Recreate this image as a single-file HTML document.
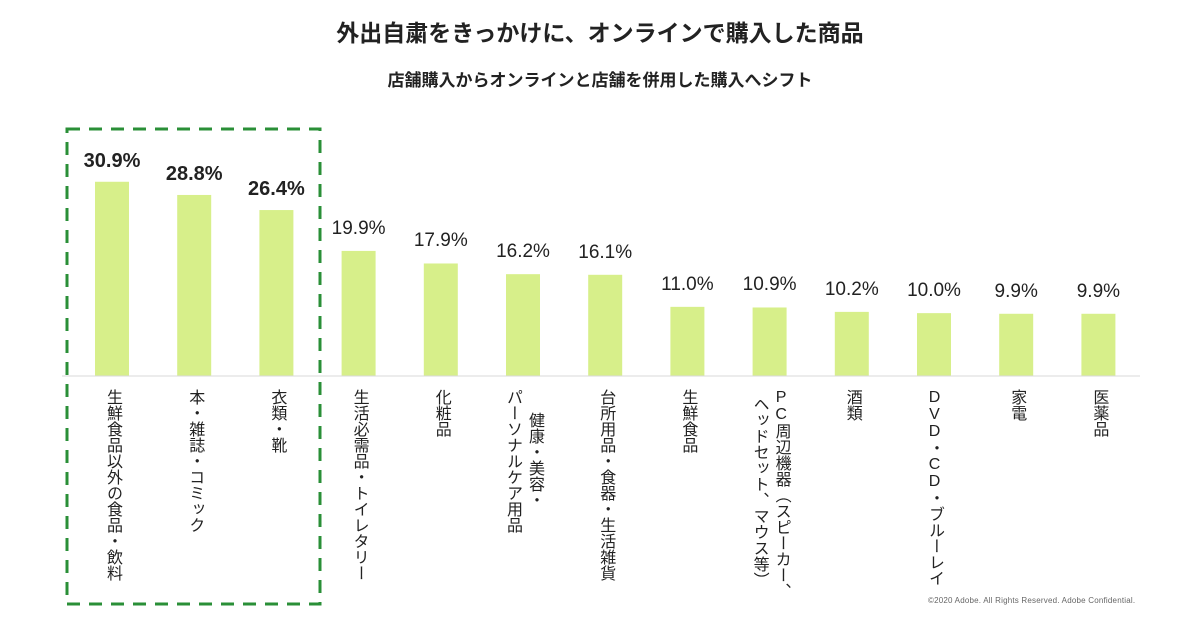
<!DOCTYPE html>
<html><head><meta charset="utf-8">
<style>
body{margin:0;width:1200px;height:630px;background:#fff;position:relative;overflow:hidden;font-family:"Liberation Sans","Noto Sans CJK JP",sans-serif;color:#222}
.t{position:absolute;left:0;width:1200px;text-align:center}
.cat{position:absolute;writing-mode:vertical-rl;text-orientation:upright;font-size:16px;line-height:22px;white-space:nowrap;color:#222}
.val{position:absolute;width:100px;text-align:center;font-size:19px;color:#222}
</style></head><body>
<div class="t" style="top:14px;font-size:23px;font-weight:bold">外出自粛をきっかけに、オンラインで購入した商品</div>
<div class="t" style="top:66px;font-size:17px;font-weight:bold">店舗購入からオンラインと店舗を併用した購入へシフト</div>
<svg width="1200" height="630" style="position:absolute;left:0;top:0">
<g id="bars"></g>
<line x1="62" y1="376" x2="1140" y2="376" stroke="#d9d9d9" stroke-width="1"/>
<rect x="67" y="129" width="253" height="475" fill="none" stroke="#2a8f37" stroke-width="3" stroke-dasharray="13 9"/>
</svg>
<div id="labels"></div>
<div style="position:absolute;left:928px;top:596px;font-size:8px;letter-spacing:0.2px;color:#666">©2020 Adobe. All Rights Reserved. Adobe Confidential.</div>
<script>
const categories=[["生鮮食品以外の食品・飲料"],["本・雑誌・コミック"],["衣類・靴"],["生活必需品・トイレタリー"],["化粧品"],["健康・美容・","パーソナルケア用品"],["台所用品・食器・生活雑貨"],["生鮮食品"],["PC周辺機器（スピーカー、","ヘッドセット、マウス等）"],["酒類"],["DVD・CD・ブルーレイ"],["家電"],["医薬品"]];
const values=[30.9,28.8,26.4,19.9,17.9,16.2,16.1,11.0,10.9,10.2,10.0,9.9,9.9];
const valueLabels=["30.9%","28.8%","26.4%","19.9%","17.9%","16.2%","16.1%","11.0%","10.9%","10.2%","10.0%","9.9%","9.9%"];
const highlighted=[true,true,true,false,false,false,false,false,false,false,false,false,false];
const x0=112,step=82.2,base=376,k=6.286,bw=34;
const xs=i=>x0+i*step, ys=v=>base-v*k;
const bars=document.getElementById('bars'),labels=document.getElementById('labels');
values.forEach((v,i)=>{
 const r=document.createElementNS('http://www.w3.org/2000/svg','rect');
 r.setAttribute('x',xs(i)-bw/2);r.setAttribute('y',ys(v));r.setAttribute('width',bw);r.setAttribute('height',base-ys(v));r.setAttribute('fill','#d7ef8a');
 
 
 bars.appendChild(r);
 const t=document.createElement('div');t.className='val';
 t.style.left=(xs(i)-50)+'px';t.style.top=(ys(v)-(highlighted[i]?32:33))+'px';
 if(highlighted[i]){t.style.fontWeight='bold';t.style.fontSize='20px';}
 t.textContent=valueLabels[i];
 
 
 labels.appendChild(t);
 const lines=categories[i];
 lines.forEach((ln,j)=>{
  const c=document.createElement('div');c.className='cat';
  const off=(lines.length-1)/2-j;
  c.style.left=(xs(i)-11+off*22)+'px';
  c.style.top=(lines.length>1&&j==0&&i==5?412:(j==1&&i==8?396:389))+'px';
  c.textContent=ln;
  
  
  labels.appendChild(c);
 });
});
</script>
</body></html>
